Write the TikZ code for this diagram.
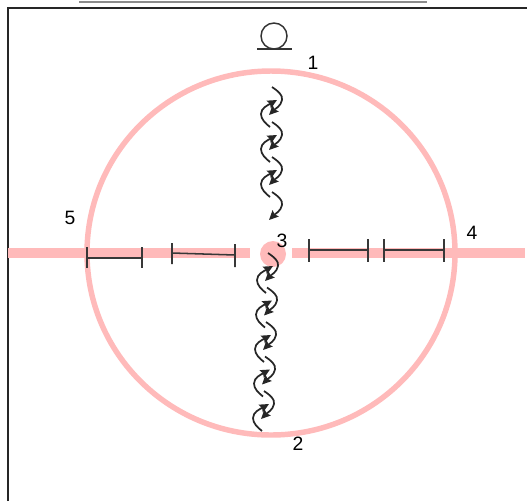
\documentclass[tikz,border=0pt]{standalone}
\usepackage{fontspec}
\setmainfont{Liberation Sans}
\usetikzlibrary{arrows.meta}
\definecolor{pinkline}{RGB}{255,186,186}
\tikzset{
  ring/.style={draw=pinkline,line width=4.1pt},
  bar/.style={draw=pinkline,line width=7.8pt},
  bracket/.style={draw=black!78,line width=1.15pt},
  wave/.style={draw=black!85,line width=1.3pt,-{Stealth[length=7pt,width=6.5pt,inset=1pt]}},
  num/.style={font=\fontsize{14.5}{16}\selectfont,inner sep=0pt},
}
\newcommand{\rightarc}[2]{%
  \draw[wave] (#1,#2) .. controls (#1+6,#2+4) and (#1+11,#2+8) .. (#1+10,#2+13) .. controls (#1+9,#2+19) and (#1+3,#2+22) .. (#1-3,#2+28);}
\newcommand{\leftarc}[2]{%
  \draw[wave] (#1-2,#2+40) .. controls (#1-7,#2+36) and (#1-11,#2+32) .. (#1-11,#2+27) .. controls (#1-11,#2+21) and (#1-4,#2+18) .. (#1+5,#2+13);}
\begin{document}
\begin{tikzpicture}[x=0.75pt,y=-0.75pt]
\useasboundingbox (0,0) rectangle (527,501);
\fill[white] (0,0) rectangle (527,501);
% frame
\draw[draw=black!45,line width=1.7pt] (79,2) -- (427,2);
\draw[draw=black!85,line width=1.3pt] (8,501) -- (8,8) -- (527,8);
% ring, bars, centre
\draw[ring] (271,253) ellipse [x radius=184, y radius=182];
\draw[bar] (8,253) -- (250,253);
\draw[bar] (292,253) -- (525,253);
\fill[pinkline] (273,254) circle [radius=13];
% top symbol
\draw[draw=black!80,line width=1.1pt] (274,36) circle [radius=13];
\draw[draw=black!80,line width=1.1pt] (257,49) -- (292,49);
% brackets
\draw[bracket] (87,247) -- (87,268) (87,258) -- (142,258) (142,247) -- (142,268);
\draw[bracket] (172,243) -- (172,264) (172,253) -- (235,255) (235,244) -- (235,267);
\draw[bracket] (309,239) -- (309,262) (309,250) -- (368,250) (368,239) -- (368,262);
\draw[bracket] (384,239) -- (384,262) (384,250) -- (444,250) (444,239) -- (444,262);
% top wave
\foreach \k in {0,1,2,3}{
  \pgfmathsetmacro{\yy}{87+35*\k}
  \rightarc{272}{\yy}
}
\foreach \k in {0,1,2}{
  \pgfmathsetmacro{\yy}{87+35*\k}
  \leftarc{272}{\yy}
}
% bottom wave
\foreach \k in {0,1,2,3,4}{
  \pgfmathsetmacro{\yy}{253+34.5*\k}
  \pgfmathsetmacro{\xx}{268-\k}
  \rightarc{\xx}{\yy}
  \leftarc{\xx}{\yy}
}
% labels
\node[num] (n1) at (313,63) {1};
\node[num] (n2) at (298,444) {2};
\node[num] (n3) at (282,241) {3};
\node[num] (n4) at (472,233) {4};
\node[num] (n5) at (70,218) {5};
\end{tikzpicture}
\end{document}
